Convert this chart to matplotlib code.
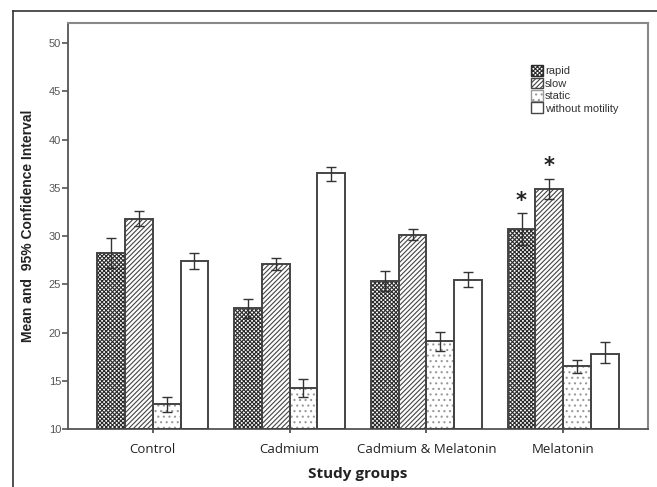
import matplotlib
matplotlib.use("Agg")
import matplotlib.pyplot as plt
from matplotlib.lines import Line2D
from matplotlib.patches import Patch
import numpy as np

groups = ["Control", "Cadmium", "Cadmium & Melatonin", "Melatonin"]
series = ["rapid", "slow", "static", "without motility"]
means = {
    "rapid":            [28.3, 22.5, 25.35, 30.7],
    "slow":             [31.8, 27.1, 30.1, 34.9],
    "static":           [12.6, 14.2, 19.15, 16.5],
    "without motility": [27.4, 36.5, 25.5, 17.8],
}
ci_low = {
    "rapid":            [26.7, 21.5, 24.3, 29.1],
    "slow":             [31.0, 26.5, 29.6, 33.9],
    "static":           [11.8, 13.3, 18.1, 15.8],
    "without motility": [26.6, 35.7, 24.7, 16.8],
}
ci_high = {
    "rapid":            [29.8, 23.5, 26.4, 32.4],
    "slow":             [32.6, 27.7, 30.7, 35.9],
    "static":           [13.3, 15.2, 20.1, 17.2],
    "without motility": [28.2, 37.2, 26.3, 19.0],
}
stars = [("rapid", 3, 33.6), ("slow", 3, 37.3)]
yticks = [10, 15, 20, 25, 30, 35, 40, 45, 50]

hatches = {"rapid": "xxxxxxxx", "slow": "///////", "static": "...", "without motility": ""}
hcolors = {"rapid": "#2a2a2a", "slow": "#444444", "static": "#999999", "without motility": "#444444"}

plt.rcParams["hatch.linewidth"] = 0.8
fig = plt.figure(figsize=(6.57, 4.87), dpi=100)
ax = fig.add_axes([68/657, 1-429/487, (648-68)/657, (429-23)/487])

x = np.arange(len(groups))
w = 0.203
for i, s in enumerate(series):
    pos = x + (i - 1.5) * w
    vals = np.array(means[s])
    lo = vals - np.array(ci_low[s])
    hi = np.array(ci_high[s]) - vals
    ax.bar(pos, vals - 10, width=w, bottom=10, color="white", edgecolor=hcolors[s],
           hatch=hatches[s], linewidth=0, zorder=2)
    ax.bar(pos, vals - 10, width=w, bottom=10, color="none", edgecolor="#444444",
           linewidth=1.4, zorder=3)
    ax.errorbar(pos, vals, yerr=[lo, hi], fmt="none", ecolor="#333333",
                elinewidth=1.0, capsize=3.5, capthick=1.0, zorder=4)

for s, gi, yv in stars:
    i = series.index(s)
    ax.text(x[gi] + (i - 1.5) * w, yv, "*", ha="center", va="center",
            fontsize=15, fontweight="bold", color="#222222", zorder=5)

ax.set_xlim(-0.62, 3.62)
ax.set_ylim(10, 52.1)
ax.set_yticks(yticks)
ax.set_yticklabels([str(t) for t in yticks], fontsize=8, color="#555555",
                   family="Liberation Sans")
ax.set_xticks(x)
ax.set_xticklabels(groups, fontsize=9.5, color="#222222", family="Open Sans")
ax.tick_params(axis="y", direction="out", length=4, width=1.2, color="#555555", pad=1)
ax.tick_params(axis="x", direction="inout", length=6, width=1.2, color="#444444", pad=7)
for sp in ["left", "bottom"]:
    ax.spines[sp].set_color("#555555")
    ax.spines[sp].set_linewidth(1.3)
for sp in ["top", "right"]:
    ax.spines[sp].set_color("#888888")
    ax.spines[sp].set_linewidth(1.5)

ax.set_xlabel("Study groups", fontsize=11, fontweight="bold", family="Open Sans",
              color="#222222", labelpad=8)
ax.set_ylabel("Mean and  95% Confidence Interval", fontsize=10, fontweight="bold",
              family="Liberation Sans", color="#222222", labelpad=10)

handles = [Patch(facecolor="white", edgecolor=hcolors[s], hatch=hatches[s], linewidth=1)
           for s in series]
leg = ax.legend(handles, series, loc="upper left", bbox_to_anchor=(0.788, 0.91),
                frameon=False, prop={"family": "Liberation Sans", "size": 8},
                handlelength=1.1, handleheight=1.1, handletextpad=0.2, labelspacing=0.12,
                borderpad=0)
for t in leg.get_texts():
    t.set_color("#333333")

fig.add_artist(Line2D([13/657, 13/657], [0, 1-11/487], transform=fig.transFigure,
                      color="#333333", linewidth=1.2))
fig.add_artist(Line2D([13/657, 1], [1-11/487, 1-11/487], transform=fig.transFigure,
                      color="#333333", linewidth=1.2))

fig.savefig("out.png", dpi=100)
